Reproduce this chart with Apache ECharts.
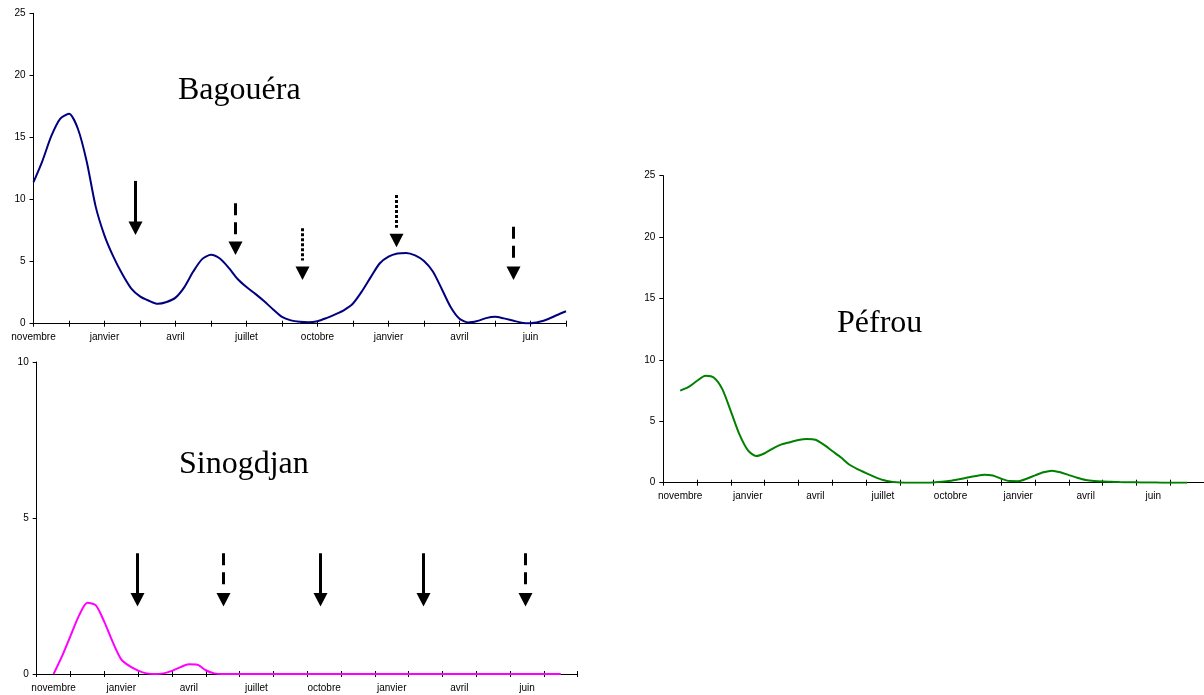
<!DOCTYPE html>
<html>
<head>
<meta charset="utf-8">
<title>Bagouéra, Sinogdjan, Péfrou</title>
<script src="https://cdn.jsdelivr.net/npm/echarts@6/dist/echarts.min.js"></script>
<style>
  html, body { margin: 0; padding: 0; background: #fff; }
  #chart { width: 1204px; height: 695px; }
</style>
</head>
<body>
<div id="chart"></div>
<script>
// Month labels shown under every other tick (16 steps on each time axis)
const tickLabels = ['novembre', '', 'janvier', '', 'avril', '', 'juillet', '', 'octobre', '', 'janvier', '', 'avril', '', 'juin', ''];

// Samples per axis step (4 readings between two ticks)
const POINTS_PER_STEP = 4;

// Bagouéra (0 - 25)
const bagoueraValues = [
  11.4, 13.1, 15.1, 16.5, 16.9, 15.7, 13.05, 9.45, 7.1, 5.4,
  4.0, 2.85, 2.2, 1.85, 1.6, 1.75, 2.1, 2.95, 4.2, 5.2,
  5.55, 5.25, 4.5, 3.6, 2.95, 2.4, 1.8, 1.15, 0.55, 0.27,
  0.15, 0.11, 0.2, 0.45, 0.75, 1.1, 1.63, 2.6, 3.75, 4.85,
  5.4, 5.65, 5.7, 5.5, 5.05, 4.2, 2.8, 1.35, 0.4, 0.1,
  0.22, 0.45, 0.55, 0.43, 0.25, 0.08, 0.03, 0.15, 0.38, 0.7,
  1.0
];

// Sinogdjan (0 - 10)
const sinogdjanValues = [
  0, 0.57, 1.22, 1.87, 2.28, 2.2, 1.67, 1.02, 0.47, 0.25,
  0.11, 0.02, 0, 0.02, 0.1, 0.22, 0.31, 0.3, 0.12, 0.02,
  0, 0, 0, 0, 0, 0, 0, 0, 0, 0,
  0, 0, 0, 0, 0, 0, 0, 0, 0, 0,
  0, 0, 0, 0, 0, 0, 0, 0, 0, 0,
  0, 0, 0, 0, 0, 0, 0, 0, 0, 0,
  0
];

// Péfrou (0 - 25)
const pefrouValues = [
  7.5, 7.8, 8.3, 8.7, 8.55, 7.6, 5.8, 3.95, 2.65, 2.17,
  2.4, 2.8, 3.12, 3.3, 3.48, 3.55, 3.5, 3.1, 2.58, 2.07,
  1.48, 1.1, 0.78, 0.48, 0.22, 0.07, 0.02, 0, 0, 0,
  0.02, 0.07, 0.15, 0.28, 0.42, 0.55, 0.65, 0.58, 0.32, 0.13,
  0.12, 0.32, 0.6, 0.85, 0.98, 0.85, 0.62, 0.4, 0.22, 0.13,
  0.09, 0.07, 0.05, 0.04, 0.03, 0.02, 0.01, 0, 0, 0,
  0
];

// Arrows marking events: position on the time axis (steps), shaft top and tip (data values)
const bagoueraArrows = [
  { at: 2.86, from: 11.5, to: 7.15, style: 'solid' },
  { at: 5.68, from: 9.7, to: 5.53, style: 'dashed' },
  { at: 7.56, from: 7.68, to: 3.52, style: 'dotted' },
  { at: 10.2, from: 10.37, to: 6.15, style: 'dotted' },
  { at: 13.5, from: 7.81, to: 3.52, style: 'dashed' }
];
const sinogdjanArrows = [
  { at: 2.46, from: 3.87, to: 2.16, style: 'solid' },
  { at: 5.02, from: 3.87, to: 2.16, style: 'dashed' },
  { at: 7.88, from: 3.87, to: 2.16, style: 'solid' },
  { at: 10.91, from: 3.87, to: 2.16, style: 'solid' },
  { at: 13.93, from: 3.87, to: 2.16, style: 'dashed' }
];

const FONT = "'Liberation Sans', Arial, sans-serif";
const SERIF = "'Liberation Serif', 'Times New Roman', serif";
const stepIds = tickLabels.map((_, i) => String(i));

function toPairs(values) {
  return values.map((v, i) => [i / POINTS_PER_STEP, v]);
}

// Three x axes per grid: labelled category axis (outer ticks), a twin for the inner
// half of the crossing ticks, and a hidden value axis that places the samples.
function xAxesFor(gridIndex, between) {
  const base = {
    type: 'category', gridIndex, position: 'bottom', data: stepIds,
    boundaryGap: between
  };
  return [
    Object.assign({}, base, {
      axisLine: { show: true, onZero: false, lineStyle: { color: '#000', width: 1 } },
      axisTick: { show: true, interval: 0, length: 3, lineStyle: { color: '#000' } },
      axisLabel: {
        show: true, interval: 0, margin: 9, color: '#000', fontSize: 10, fontFamily: FONT,
        formatter: (v, idx) => tickLabels[idx]
      },
      splitLine: { show: false }
    }),
    Object.assign({}, base, {
      axisLine: { show: false, onZero: false },
      axisTick: { show: true, inside: true, interval: 0, length: 3, lineStyle: { color: '#000' } },
      axisLabel: { show: false },
      splitLine: { show: false }
    }),
    {
      type: 'value', gridIndex, position: 'bottom', show: false,
      axisLine: { onZero: false },
      min: between ? -0.5 : 0,
      max: between ? tickLabels.length - 0.5 : tickLabels.length - 1
    }
  ];
}

function yAxisFor(gridIndex, max) {
  return {
    type: 'value', gridIndex, position: 'left', min: 0, max, interval: 5,
    axisLine: { show: true, onZero: false, lineStyle: { color: '#000', width: 1 } },
    axisTick: { show: true, length: 4, lineStyle: { color: '#000' } },
    axisLabel: { margin: 8, color: '#000', fontSize: 10, fontFamily: FONT },
    splitLine: { show: false }
  };
}

const chart = echarts.init(document.getElementById('chart'), null, { renderer: 'canvas' });

chart.setOption({
  animation: false,
  backgroundColor: '#fff',
  grid: [
    { left: 33.5, top: 13.3, width: 532.5, height: 310.4 },
    { left: 36.7, top: 362, width: 541, height: 312 },
    { left: 663.3, top: 175.7, width: 541.4, height: 307 }
  ],
  xAxis: [].concat(xAxesFor(0, false), xAxesFor(1, true), xAxesFor(2, true)),
  yAxis: [yAxisFor(0, 25), yAxisFor(1, 10), yAxisFor(2, 25)],
  series: [
    {
      name: 'Bagouéra', type: 'line', xAxisIndex: 2, yAxisIndex: 0,
      data: toPairs(bagoueraValues), smooth: 0.25, symbol: 'none',
      lineStyle: { color: '#000080', width: 2 }
    },
    {
      name: 'Sinogdjan', type: 'line', xAxisIndex: 5, yAxisIndex: 1,
      data: toPairs(sinogdjanValues), smooth: 0.25, symbol: 'none',
      lineStyle: { color: '#FF00FF', width: 2 }
    },
    {
      name: 'Péfrou', type: 'line', xAxisIndex: 8, yAxisIndex: 2,
      data: toPairs(pefrouValues), smooth: 0.25, symbol: 'none',
      lineStyle: { color: '#008000', width: 2 }
    }
  ]
});

// Arrow shafts and heads, placed through the axes' own scales
const DASHES = { solid: null, dashed: [12, 7], dotted: [3, 2] };
const HEAD_W = 14, HEAD_H = 13.5;

function arrowGraphics(arrows, xAxisIndex, yAxisIndex) {
  const out = [];
  arrows.forEach(a => {
    const top = chart.convertToPixel({ xAxisIndex, yAxisIndex }, [a.at, a.from]);
    const tip = chart.convertToPixel({ xAxisIndex, yAxisIndex }, [a.at, a.to]);
    const x = Math.round(top[0]) + 0.5;
    const base = tip[1] - HEAD_H;
    out.push({
      type: 'line', silent: true, z: 10,
      shape: { x1: x, y1: top[1], x2: x, y2: a.style === 'solid' ? base + 1 : base - 6 },
      style: { stroke: '#000', lineWidth: 3, lineDash: DASHES[a.style], lineCap: 'butt' }
    });
    out.push({
      type: 'polygon', silent: true, z: 10,
      shape: { points: [[x - HEAD_W / 2, base], [x + HEAD_W / 2, base], [x, tip[1]]] },
      style: { fill: '#000' }
    });
  });
  return out;
}

const titles = [
  { text: 'Bagouéra', x: 178, y: 91 },
  { text: 'Sinogdjan', x: 179, y: 465 },
  { text: 'Péfrou', x: 837, y: 324 }
].map(t => ({
  type: 'text', silent: true, z: 10, x: t.x, y: t.y,
  style: { text: t.text, font: '32px ' + SERIF, fill: '#000', verticalAlign: 'middle', align: 'left' }
}));

chart.setOption({
  graphic: [].concat(
    titles,
    arrowGraphics(bagoueraArrows, 2, 0),
    arrowGraphics(sinogdjanArrows, 5, 1)
  )
});
</script>
</body>
</html>
